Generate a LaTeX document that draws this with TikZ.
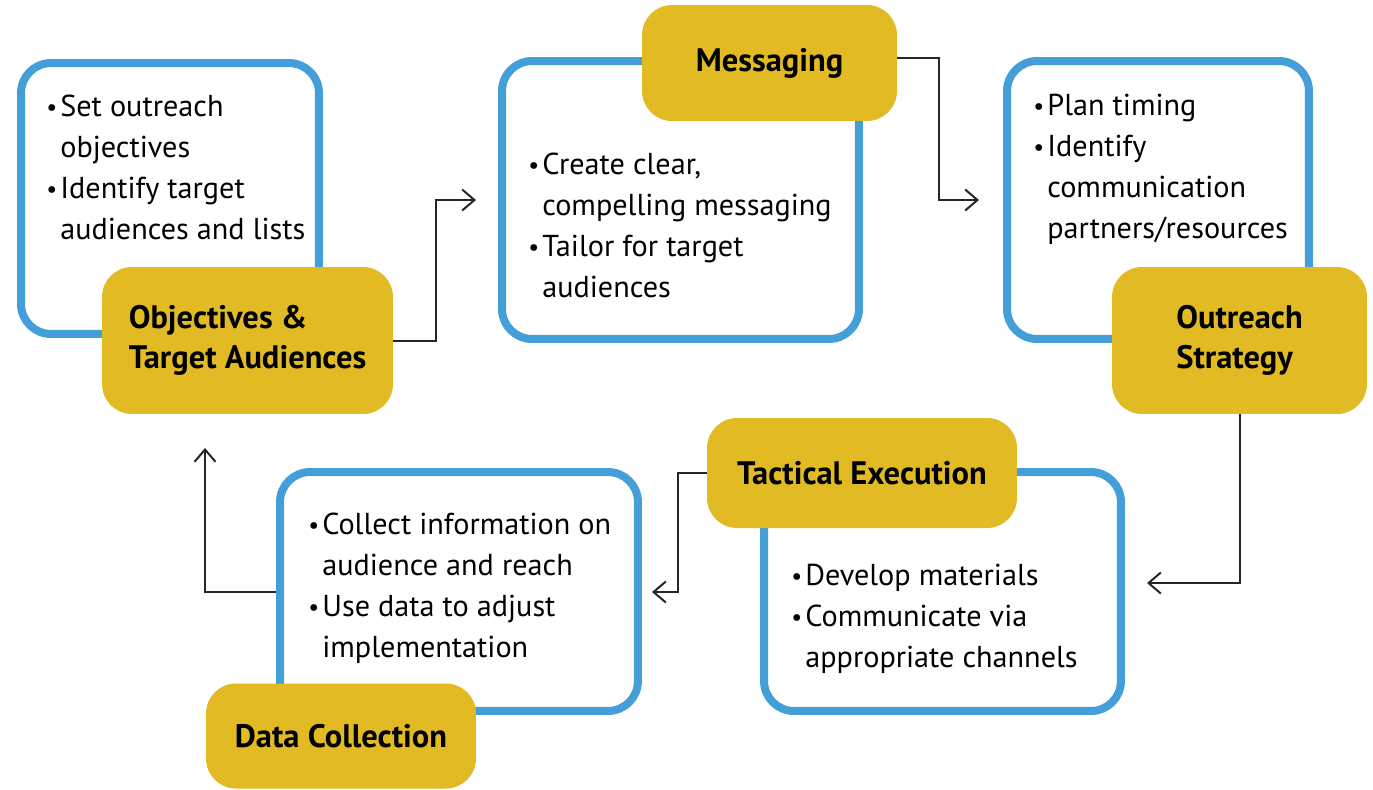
\documentclass[tikz,border=0pt]{standalone}
\usepackage{fontspec}
\setmainfont{PT Sans}
\usetikzlibrary{arrows.meta}
\definecolor{stepblue}{RGB}{68,158,215}
\definecolor{stepgold}{RGB}{226,186,36}
\newcommand{\bl}{\makebox[0.28cm][l]{\raisebox{0.02cm}{\scalebox{0.8}{\textbullet}}}}
\newcommand{\ind}{\hspace*{0.28cm}}
\begin{document}
\begin{tikzpicture}[x=0.02cm,y=-0.02cm,
  every node/.style={font=\fontsize{17.2}{23.3}\selectfont},
  panel/.style={draw=stepblue,line width=0.16cm,rounded corners=0.6cm,fill=white},
  badge/.style={fill=stepgold,rounded corners=0.6cm,align=left,font=\fontsize{18.5}{22.8}\selectfont\bfseries},
  points/.style={anchor=base west,inner sep=0pt,align=left},
  flow/.style={draw=black!85,line width=0.04cm,-{Straight Barb[length=7pt,width=12pt]}}]
\path[fill=white,use as bounding box] (0,0) rectangle (1373,789);
\node[panel,minimum width=5.96cm,minimum height=5.42cm] (objbox) at (170,198.5) {};
\node[panel,minimum width=7.14cm,minimum height=5.56cm] (msgbox) at (680.5,200) {};
\node[panel,minimum width=6.04cm,minimum height=5.56cm] (strbox) at (1158,200) {};
\node[panel,minimum width=7.14cm,minimum height=4.78cm] (tacbox) at (942.5,591.5) {};
\node[panel,minimum width=7.16cm,minimum height=4.78cm] (datbox) at (459,591.5) {};
% anchors sit on the last line
\node[points] (objtxt) at (46,239) {\bl Set outreach\\ \ind objectives\\ \bl Identify target\\ \ind audiences and lists};
\node[points] (msgtxt) at (528,297) {\bl Create clear,\\ \ind compelling messaging\\ \bl Tailor for target\\ \ind audiences};
\node[points] (strtxt) at (1033,238) {\bl Plan timing\\ \bl Identify\\ \ind communication\\ \ind partners/resources};
\node[points] (tactxt) at (791,667) {\bl Develop materials\\ \bl Communicate via\\ \ind appropriate channels};
\node[points] (dattxt) at (308,657) {\bl Collect information on\\ \ind audience and reach\\ \bl Use data to adjust\\ \ind implementation};
\node[badge,minimum width=5.82cm,minimum height=2.94cm] (objtag) at (247.5,340.5) {Objectives \&\\Target Audiences};
\node[badge,minimum width=5.1cm,minimum height=2.32cm] (msgtag) at (769.5,63) {Messaging};
\node[badge,minimum width=5.1cm,minimum height=2.94cm] (strtag) at (1239.5,340.5) {Outreach\\Strategy};
\node[badge,minimum width=6.2cm,minimum height=2.2cm] (tactag) at (862,473) {Tactical Execution};
\node[badge,minimum width=5.4cm,minimum height=2.1cm] (dattag) at (341,736) {Data Collection};
\coordinate (intoMsg) at (476,200);
\coordinate (intoStr) at (979,200);
\coordinate (intoTac) at (1147,583);
\coordinate (intoDat) at (652,592);
\coordinate (intoObj) at (205,448);
\draw[flow] (objtag.east) -- ++(43,0) |- (intoMsg);
\draw[flow] ([yshift=0.1cm]msgtag.east) -- ++(42,0) |- (intoStr);
\draw[flow] (strtag.south) |- (intoTac);
\draw[flow] (tactag.west) -- ++(-29,0) |- (intoDat);
\draw[flow] (datbox.west) -| (intoObj);
\end{tikzpicture}
\end{document}
